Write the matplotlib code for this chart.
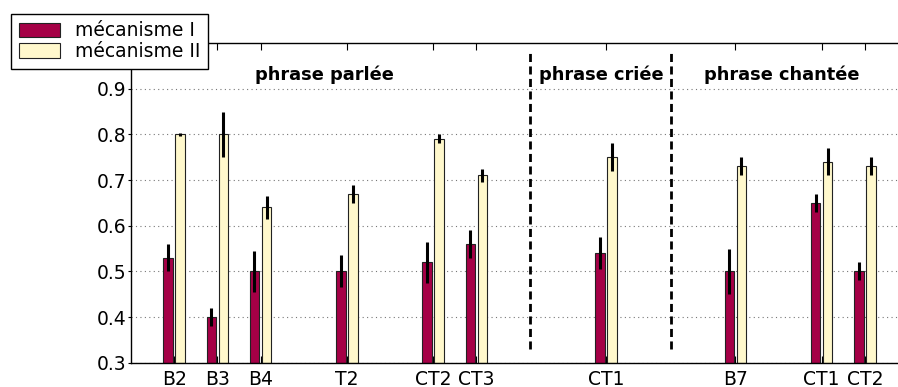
import matplotlib
matplotlib.use("Agg")
import matplotlib.pyplot as plt
import numpy as np

plt.rcParams["font.family"] = ["DejaVu Sans"]

# positions des groupes (unités de l'axe) et étiquettes
positions = [1, 2, 3, 5, 7, 8, 11, 14, 16, 17]
labels = ["B2", "B3", "B4", "T2", "CT2", "CT3", "CT1", "B7", "CT1", "CT2"]

meca1 = [0.53, 0.40, 0.50, 0.50, 0.52, 0.56, 0.54, 0.50, 0.65, 0.50]
meca1_err = [0.03, 0.02, 0.045, 0.035, 0.045, 0.03, 0.035, 0.05, 0.02, 0.02]
meca2 = [0.80, 0.80, 0.64, 0.67, 0.79, 0.71, 0.75, 0.73, 0.74, 0.73]
meca2_err = [0.003, 0.05, 0.025, 0.02, 0.01, 0.015, 0.03, 0.02, 0.03, 0.02]

sections = ["phrase parlée", "phrase criée", "phrase chantée"]
section_x = [4.48, 10.9, 15.08]
separators = [9.25, 12.5]

C_RED = "#a50046"
C_YEL = "#fff8cc"

fig = plt.figure(figsize=(8.98, 3.87), dpi=100)
ax = fig.add_axes([131/898, 24.3/387, 777/898, 319.7/387])

x = np.array(positions, dtype=float)
off, w = 0.14, 0.22
b1 = ax.bar(x - off, [v - 0.3 for v in meca1], w, bottom=0.3, color=C_RED,
            edgecolor="#222", lw=0.8, label="mécanisme I", zorder=2)
b2 = ax.bar(x + off, [v - 0.3 for v in meca2], w, bottom=0.3, color=C_YEL,
            edgecolor="#222", lw=0.8, label="mécanisme II", zorder=2)
ax.errorbar(x - off, meca1, yerr=meca1_err, fmt="none", ecolor="black",
            elinewidth=2.2, capsize=0, zorder=3)
ax.errorbar(x + off, meca2, yerr=meca2_err, fmt="none", ecolor="black",
            elinewidth=2.2, capsize=0, zorder=3)

for s in separators:
    ax.plot([s, s], [0.33, 0.98], color="black", lw=2.0, dashes=(2.9, 1.6), zorder=3)
for t, sx in zip(sections, section_x):
    ax.text(sx, 0.93, t, ha="center", va="center", fontsize=12.8, weight="bold")

ax.set_xlim(0, 18)
ax.set_ylim(0.3, 1.0)
ax.set_yticks([0.3, 0.4, 0.5, 0.6, 0.7, 0.8, 0.9])
ax.set_xticks(positions)
ax.set_xticklabels(labels)
ax.tick_params(axis="x", direction="in", top=True, length=5, labelsize=13.5, pad=5)
ax.tick_params(axis="y", direction="out", length=2, labelsize=13.5, pad=1)
ax.yaxis.grid(True, linestyle=(0, (1, 3)), color="#777", lw=0.8)
ax.set_axisbelow(True)
for sp in ax.spines.values():
    sp.set_linewidth(1.0)

fig.legend(handles=[b1, b2], loc="upper left", bbox_to_anchor=(11/898, 1 - 14/387),
           borderaxespad=0, fontsize=13.5, frameon=True, fancybox=False,
           edgecolor="black", framealpha=1, handlelength=2.2, handleheight=0.85,
           borderpad=0.4, labelspacing=0.1, handletextpad=0.8)

fig.savefig("out.png", dpi=100, facecolor="white")
